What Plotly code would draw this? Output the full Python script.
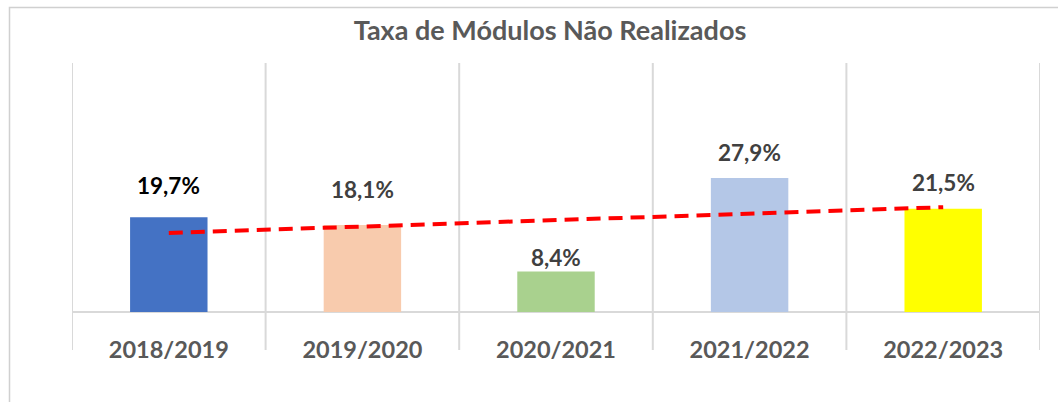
import numpy as np
import plotly.graph_objects as go

categories = ["2018/2019", "2019/2020", "2020/2021", "2021/2022", "2022/2023"]
values = [19.7, 18.1, 8.4, 27.9, 21.5]
value_labels = ["19,7%", "18,1%", "8,4%", "27,9%", "21,5%"]
title_text = "Taxa de Módulos Não Realizados"

bar_colors = ["#4472C4", "#F8CBAD", "#A9D18E", "#B4C7E7", "#FFFF00"]
label_colors = ["#000000", "#404040", "#404040", "#404040", "#404040"]
label_shifts = [32, 35, 14, 25, 26]

FONT = "Lato"

# linear trendline (as Excel does) computed from the values
xi = np.arange(1, len(values) + 1)
slope, intercept = np.polyfit(xi, values, 1)
trend = slope * xi + intercept

fig = go.Figure()
fig.add_trace(go.Bar(x=categories, y=values, marker=dict(color=bar_colors, line=dict(width=0)),
                     hoverinfo="skip", showlegend=False))
fig.add_trace(go.Scatter(x=categories, y=trend, mode="lines",
                         line=dict(color="#FF0000", width=4, dash="14px,8px"),
                         hoverinfo="skip", showlegend=False))

for i, (c, v, t) in enumerate(zip(categories, values, value_labels)):
    fig.add_annotation(x=c, y=v, text="<b>%s</b>" % t, showarrow=False, yshift=label_shifts[i],
                       font=dict(family=FONT, size=22.5, color=label_colors[i]))

shapes = []
for k in range(len(categories) + 1):
    shapes.append(dict(type="line", xref="x", yref="paper", x0=k - 0.5, x1=k - 0.5,
                       y0=-38 / 249, y1=1, line=dict(color="#D9D9D9", width=2), layer="below"))
shapes.append(dict(type="line", xref="x", yref="paper", x0=-0.5, x1=len(categories) - 0.5,
                   y0=0, y1=0, line=dict(color="#D9D9D9", width=2), layer="below"))
# outer chart border
shapes.append(dict(type="rect", xref="paper", yref="paper", x0=(9.5 - 72) / 968, x1=1.2,
                   y0=-0.6, y1=(312 - 7.5) / 249, line=dict(color="#D0D0D0", width=1.5)))

fig.update_layout(
    width=1058, height=402,
    margin=dict(l=72, r=18, t=63, b=90),
    paper_bgcolor="white", plot_bgcolor="white",
    title=dict(text="<b>%s</b>" % title_text, x=550 / 1058, xanchor="center",
               y=1 - 31 / 402, yanchor="middle", font=dict(family=FONT, size=27, color="#595959")),
    bargap=0.6,
    shapes=shapes,
    xaxis=dict(range=[-0.5, len(categories) - 0.5], showgrid=False, zeroline=False, showline=False,
               ticks="outside", ticklen=17, tickcolor="rgba(0,0,0,0)",
               tickfont=dict(family=FONT, size=23.5, color="#595959"),
               tickvals=categories, ticktext=["<b>%s</b>" % c for c in categories]),
    yaxis=dict(range=[0, 51.8], showgrid=False, zeroline=False, showline=False, showticklabels=False),
)

fig.write_html("out.html")
